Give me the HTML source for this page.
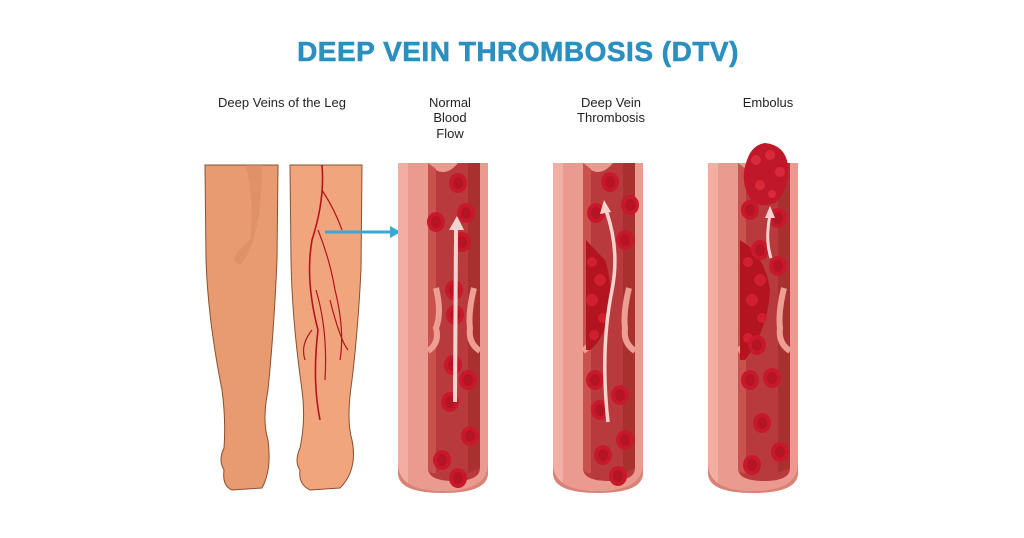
<!DOCTYPE html>
<html><head><meta charset="utf-8"><style>
html,body{margin:0;padding:0;background:#fff;width:1024px;height:538px;overflow:hidden}
svg{display:block}
text{font-family:"Liberation Sans",sans-serif}
</style></head><body>
<svg width="1024" height="538" viewBox="0 0 1024 538">
<defs>
<g id="vein">
  <path d="M0,0 L90,0 L90,310 Q90,328 45,328 Q0,328 0,310 Z" fill="#ea9a8e"/>
  <path d="M0,0 L10,0 L10,320 Q2,318 0,310 Z" fill="#f2aea2"/>
  <path d="M30,0 Q45,18 60,0 L82,0 L82,305 Q82,318 56,318 Q30,318 30,305 Z" fill="#b83a3c"/>
  <path d="M30,0 L38,6 L38,310 Q32,312 30,305 Z" fill="#c9524f"/>
  <path d="M70,0 L82,0 L82,305 L70,310 Z" fill="#a8302f"/>
  <path d="M0,300 Q0,328 45,328 Q90,328 90,300 L90,310 Q90,330 45,330 Q0,330 0,310Z" fill="#d98377"/>
  <path d="M38,125 Q44,150 38,165 Q42,180 30,188" stroke="#ec9f92" stroke-width="6" fill="none"/>
  <path d="M76,125 Q70,150 72,165 Q70,180 82,188" stroke="#ec9f92" stroke-width="6" fill="none"/>
</g>
<g id="cell"><ellipse rx="9" ry="10" fill="#c8192c"/><ellipse rx="5" ry="6" fill="#a8101f" opacity=".6"/></g>
</defs>

<text x="518" y="61" text-anchor="middle" font-size="28" font-weight="bold" fill="#2b8fbf" stroke="#2b8fbf" stroke-width="0.6" letter-spacing="0.5">DEEP VEIN THROMBOSIS (DTV)</text>
<g font-size="13" fill="#222" text-anchor="middle">
<text x="282" y="107">Deep Veins of the Leg</text>
<text x="450" y="107">Normal</text><text x="450" y="122">Blood</text><text x="450" y="138">Flow</text>
<text x="611" y="107">Deep Vein</text><text x="611" y="122">Thrombosis</text>
<text x="768" y="107">Embolus</text>
</g>

<g stroke="#8a5030" stroke-width="1">
<path d="M205,165 L278,165 L277,260 Q274,330 268,390 Q262,420 268,440 Q272,470 262,488 L232,490 Q222,486 224,470 Q218,460 224,448 Q226,420 222,390 Q208,320 206,260 Z" fill="#e89a70"/>
<path d="M290,165 L362,165 L361,270 Q358,330 352,380 Q346,420 352,440 Q358,470 340,488 L310,490 Q298,484 300,470 Q294,462 300,448 Q306,420 302,390 Q292,320 291,260 Z" fill="#f0a57c"/>
</g>
<path d="M246,165 L262,165 Q262,240 240,265 Q225,260 250,240 Q255,210 246,165Z" fill="#d88860" opacity=".5"/>
<path d="M322,165 Q325,200 312,240 Q305,280 318,330 Q312,380 320,420" stroke="#b3141f" stroke-width="1.6" fill="none"/>
<path d="M322,190 Q335,210 342,230 M318,230 Q330,260 335,290 Q345,330 340,360 M316,290 Q328,330 325,380 M330,300 Q340,340 348,350 M312,330 Q300,345 305,360" stroke="#b3141f" stroke-width="1.2" fill="none"/>
<line x1="325" y1="232" x2="392" y2="232" stroke="#3aa7d6" stroke-width="3"/>
<polygon points="390,226 401,232 390,238" fill="#3aa7d6"/>

<g transform="translate(398,163)"><use href="#vein"/></g>
<use href="#cell" x="458" y="183"/><use href="#cell" x="436" y="222"/><use href="#cell" x="466" y="213"/><use href="#cell" x="462" y="242"/>
<use href="#cell" x="454" y="290"/><use href="#cell" x="455" y="315"/><use href="#cell" x="453" y="365"/><use href="#cell" x="468" y="380"/>
<use href="#cell" x="450" y="402"/><use href="#cell" x="470" y="436"/><use href="#cell" x="442" y="460"/><use href="#cell" x="458" y="478"/>
<line x1="455" y1="402" x2="456" y2="230" stroke="#f7d3d0" stroke-width="4"/>
<polygon points="449,230 457,216 464,230" fill="#f7d3d0"/>

<g transform="translate(553,163)"><use href="#vein"/></g>
<use href="#cell" x="610" y="182"/><use href="#cell" x="596" y="213"/><use href="#cell" x="625" y="240"/><use href="#cell" x="630" y="205"/>
<use href="#cell" x="595" y="380"/><use href="#cell" x="620" y="395"/><use href="#cell" x="600" y="410"/><use href="#cell" x="625" y="440"/><use href="#cell" x="603" y="455"/><use href="#cell" x="618" y="476"/>
<path d="M586,240 Q595,250 605,260 Q612,280 610,310 Q604,340 590,350 L586,350 Z" fill="#b3141f"/>
<g fill="#d0202f"><circle cx="592" cy="262" r="5"/><circle cx="600" cy="280" r="6"/><circle cx="592" cy="300" r="6"/><circle cx="603" cy="318" r="5"/><circle cx="594" cy="335" r="5"/></g>
<path d="M608,422 Q600,350 612,290 Q620,250 606,210" stroke="#f7d3d0" stroke-width="3.5" fill="none"/>
<polygon points="600,214 604,200 611,212" fill="#f7d3d0"/>

<g transform="translate(708,163)"><use href="#vein"/></g>
<path d="M747,160 Q752,145 765,143 Q785,145 788,165 Q790,190 775,203 Q755,210 748,195 Q740,178 747,160Z" fill="#c0182a"/>
<g fill="#d82a3a"><circle cx="756" cy="160" r="5"/><circle cx="770" cy="155" r="5"/><circle cx="780" cy="172" r="5"/><circle cx="760" cy="185" r="5"/><circle cx="772" cy="194" r="4"/></g>
<path d="M740,240 Q765,255 770,290 Q768,330 745,360 L740,360Z" fill="#b3141f"/>
<g fill="#d0202f"><circle cx="748" cy="262" r="5"/><circle cx="760" cy="280" r="6"/><circle cx="752" cy="300" r="6"/><circle cx="762" cy="318" r="5"/><circle cx="748" cy="338" r="5"/></g>
<use href="#cell" x="750" y="210"/><use href="#cell" x="778" y="218"/><use href="#cell" x="760" y="250"/><use href="#cell" x="778" y="266"/>
<use href="#cell" x="757" y="345"/><use href="#cell" x="750" y="380"/><use href="#cell" x="772" y="378"/><use href="#cell" x="762" y="423"/><use href="#cell" x="780" y="452"/><use href="#cell" x="752" y="465"/>
<path d="M771,258 Q765,240 770,215" stroke="#f7d3d0" stroke-width="3" fill="none"/>
<polygon points="765,218 770,206 775,218" fill="#f7d3d0"/>
</svg>
</body></html>
